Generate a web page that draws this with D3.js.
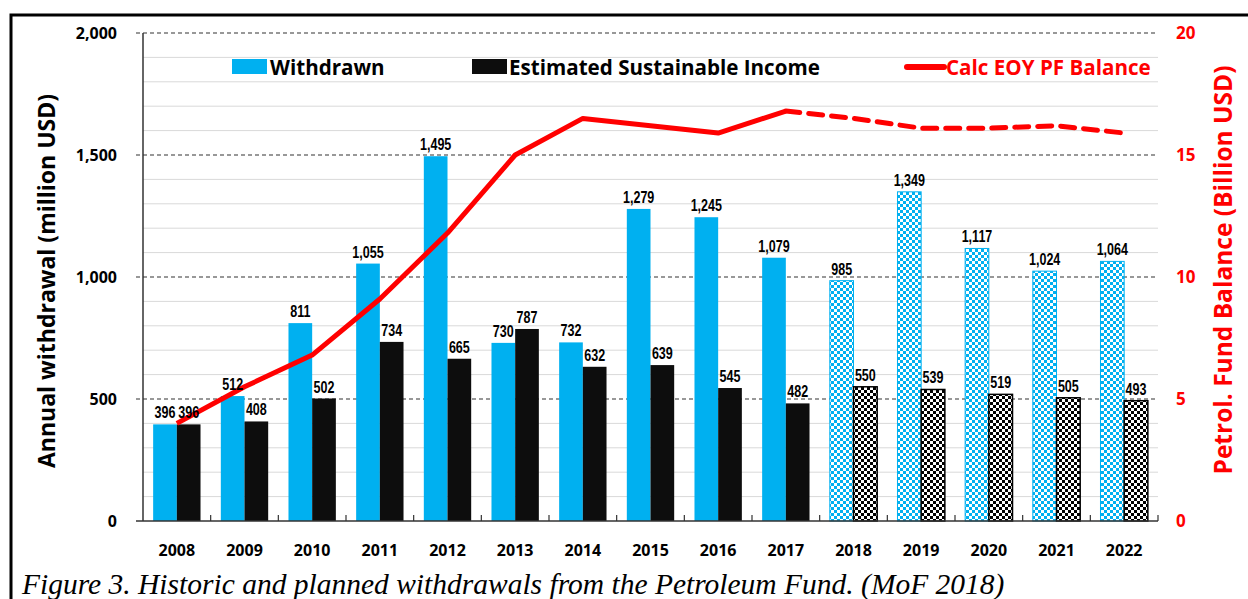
<!DOCTYPE html>
<html>
<head>
<meta charset="utf-8">
<script src="https://cdn.jsdelivr.net/npm/d3@7"></script>
<style>
  body { margin: 0; background: #fff; }
  svg { display: block; }
  .tick-l { font-family: "Open Sans", "Lato", sans-serif; font-weight: 700; font-size: 16px; fill: #000; }
  .tick-r { font-family: "Open Sans", "Lato", sans-serif; font-weight: 700; font-size: 17px; fill: #ff0000; }
  .year { font-family: "Open Sans", "Lato", sans-serif; font-weight: 700; font-size: 16px; fill: #000; }
  .val { font-family: "Liberation Sans", "Arial", sans-serif; font-weight: 700; font-size: 16.5px; fill: #000; }
  .legend { font-family: "Open Sans", "Lato", sans-serif; font-weight: 700; font-size: 20.6px; }
  .title { font-family: "Open Sans", "Lato", sans-serif; font-weight: 700; }
  .caption { font-family: "Liberation Serif", serif; font-style: italic; font-size: 29.5px; fill: #000; }
</style>
</head>
<body>
<div id="chart"></div>
<script>
// data
var years = ["2008","2009","2010","2011","2012","2013","2014","2015","2016","2017","2018","2019","2020","2021","2022"];
var withdrawn = [396, 512, 811, 1055, 1495, 730, 732, 1279, 1245, 1079, 985, 1349, 1117, 1024, 1064];
var sustainable = [396, 408, 502, 734, 665, 787, 632, 639, 545, 482, 550, 539, 519, 505, 493];
var balance = [4.0, 5.5, 6.8, 9.1, 11.8, 15.0, 16.5, 16.2, 15.9, 16.8, 16.5, 16.1, 16.1, 16.2, 15.9];
var firstPlanned = "2018";
var leftTicks = [0, 500, 1000, 1500, 2000];
var rightTicks = [0, 5, 10, 15, 20];

var W = 1248, H = 599;
var plot = {left: 143, right: 1158, top: 33, bottom: 521};

var svg = d3.select("#chart").append("svg")
  .attr("width", W).attr("height", H);

// checker patterns for the planned years
var defs = svg.append("defs");
function checker(id, col){
  var p = defs.append("pattern")
    .attr("id", id)
    .attr("patternUnits", "userSpaceOnUse")
    .attr("width", 6).attr("height", 6);
  p.append("rect").attr("width", 6).attr("height", 6).attr("fill", "#fff");
  p.append("rect").attr("width", 3).attr("height", 3).attr("fill", col);
  p.append("rect").attr("x", 3).attr("y", 3).attr("width", 3).attr("height", 3).attr("fill", col);
}
checker("chkBlue", "#00b0f0");
checker("chkBlack", "#000");

// frame
svg.append("rect")
  .attr("x", 11).attr("y", 15)
  .attr("width", W + 20).attr("height", H + 20)
  .attr("fill", "none").attr("stroke", "#000").attr("stroke-width", 3);

var x = d3.scaleBand()
  .domain(years)
  .range([plot.left, plot.right])
  .paddingInner(0.3)
  .paddingOuter(0.15);

var y = d3.scaleLinear().domain([0, 2000]).range([plot.bottom, plot.top]);
var y2 = d3.scaleLinear().domain([0, 20]).range([plot.bottom, plot.top]);

// minor grid every 100
svg.append("g").selectAll("line")
  .data(d3.range(100, 2000, 100).filter(function(d){ return d % 500 != 0; }))
  .join("line")
  .attr("x1", plot.left).attr("x2", plot.right)
  .attr("y1", function(d){ return y(d); }).attr("y2", function(d){ return y(d); })
  .attr("stroke", "#d9d9d9").attr("stroke-width", 1);

// major dashed grid
svg.append("g").selectAll("line")
  .data(leftTicks.filter(function(d){ return d > 0; }))
  .join("line")
  .attr("x1", plot.left - 7).attr("x2", plot.right)
  .attr("y1", function(d){ return y(d); }).attr("y2", function(d){ return y(d); })
  .attr("stroke", "#333").attr("stroke-width", 1.2)
  .attr("stroke-dasharray", "4,3");

// left axis
svg.append("line")
  .attr("x1", plot.left).attr("x2", plot.left)
  .attr("y1", plot.top).attr("y2", plot.bottom)
  .attr("stroke", "#333").attr("stroke-width", 1.5);

svg.append("g").selectAll("text")
  .data(leftTicks)
  .join("text")
  .attr("class", "tick-l")
  .attr("x", plot.left - 26)
  .attr("y", function(d){ return y(d) + 6; })
  .attr("text-anchor", "end")
  .text(d3.format(","));

svg.append("g").selectAll("text")
  .data(rightTicks)
  .join("text")
  .attr("class", "tick-r")
  .attr("x", plot.right + 18)
  .attr("y", function(d){ return y2(d) + 6; })
  .text(function(d){ return d; });

// bars
var bw = x.bandwidth() / 2;
var planned = function(yr){ return +yr >= +firstPlanned; };

svg.append("g").selectAll("rect")
  .data(years)
  .join("rect")
  .attr("x", function(d){ return x(d); })
  .attr("y", function(d, i){ return y(withdrawn[i]); })
  .attr("width", bw)
  .attr("height", function(d, i){ return y(0) - y(withdrawn[i]); })
  .attr("fill", function(d){ return planned(d) ? "url(#chkBlue)" : "#00b0f0"; })
  .attr("stroke", function(d){ return planned(d) ? "#00b0f0" : "none"; })
  .attr("stroke-width", 1);

svg.append("g").selectAll("rect")
  .data(years)
  .join("rect")
  .attr("x", function(d){ return x(d) + bw; })
  .attr("y", function(d, i){ return y(sustainable[i]); })
  .attr("width", bw)
  .attr("height", function(d, i){ return y(0) - y(sustainable[i]); })
  .attr("fill", function(d){ return planned(d) ? "url(#chkBlack)" : "#0d0d0d"; })
  .attr("stroke", function(d){ return planned(d) ? "#000" : "none"; })
  .attr("stroke-width", 1.5);

// x baseline and ticks
svg.append("line")
  .attr("x1", plot.left - 7).attr("x2", plot.right)
  .attr("y1", plot.bottom).attr("y2", plot.bottom)
  .attr("stroke", "#333").attr("stroke-width", 1.5);

svg.append("g").selectAll("line")
  .data(years)
  .join("line")
  .attr("x1", function(d){ return x(d) + x.bandwidth() + x.step() * 0.15; })
  .attr("x2", function(d){ return x(d) + x.bandwidth() + x.step() * 0.15; })
  .attr("y1", plot.bottom).attr("y2", plot.bottom - 6)
  .attr("stroke", "#333").attr("stroke-width", 1.2);

svg.append("g").selectAll("text")
  .data(years)
  .join("text")
  .attr("class", "year")
  .attr("x", function(d){ return x(d) + x.bandwidth() / 2; })
  .attr("y", 556)
  .attr("text-anchor", "middle")
  .text(function(d){ return d; });

// balance line
var line = d3.line()
  .x(function(d){ return x(d[0]) + x.bandwidth() / 2; })
  .y(function(d){ return y2(d[1]); });

var pts = years.map(function(d, i){ return [d, balance[i]]; });
var split = years.indexOf(firstPlanned) - 1;

svg.append("path")
  .datum(pts.slice(0, split + 1))
  .attr("d", line)
  .attr("fill", "none").attr("stroke", "#ff0000")
  .attr("stroke-width", 5).attr("stroke-linejoin", "round");

svg.append("path")
  .datum(pts.slice(split))
  .attr("d", line)
  .attr("fill", "none").attr("stroke", "#ff0000")
  .attr("stroke-width", 5).attr("stroke-dasharray", "14,9")
  .attr("stroke-linecap", "round");

// value labels (condensed look), drawn over the line
function valLabel(vals, off){
  svg.append("g").selectAll("text")
    .data(years)
    .join("text")
    .attr("class", "val")
    .attr("transform", function(d, i){
      return "translate(" + (x(d) + bw * off) + "," + (y(vals[i]) - 6) + ") scale(0.76,1)";
    })
    .attr("text-anchor", "middle")
    .text(function(d, i){ return d3.format(",")(vals[i]); });
}
valLabel(withdrawn, 0.5);
valLabel(sustainable, 1.5);

// legend
svg.append("rect").attr("x", 232).attr("y", 59).attr("width", 35).attr("height", 15).attr("fill", "#00b0f0");
svg.append("text").attr("class", "legend").attr("x", 270).attr("y", 75).text("Withdrawn");
svg.append("rect").attr("x", 472).attr("y", 59).attr("width", 35).attr("height", 15).attr("fill", "#0d0d0d");
svg.append("text").attr("class", "legend").attr("x", 509).attr("y", 75).text("Estimated Sustainable Income");
svg.append("line").attr("x1", 907).attr("x2", 944).attr("y1", 67).attr("y2", 67)
  .attr("stroke", "#ff0000").attr("stroke-width", 6).attr("stroke-linecap", "round");
svg.append("text").attr("class", "legend").attr("x", 946).attr("y", 75).attr("fill", "#ff0000").text("Calc EOY PF Balance");

// axis titles
svg.append("text").attr("class", "title")
  .style("font-size", "23px")
  .attr("transform", "translate(55,281) rotate(-90)")
  .attr("text-anchor", "middle")
  .text("Annual withdrawal (million USD)");

svg.append("text").attr("class", "title")
  .style("font-size", "24.5px")
  .attr("fill", "#ff0000")
  .attr("transform", "translate(1232,270) rotate(-90)")
  .attr("text-anchor", "middle")
  .text("Petrol. Fund Balance (Billion USD)");

// caption
svg.append("text").attr("class", "caption")
  .attr("x", 22).attr("y", 594)
  .text("Figure 3. Historic and planned withdrawals from the Petroleum Fund. (MoF 2018)");
</script>
</body>
</html>
